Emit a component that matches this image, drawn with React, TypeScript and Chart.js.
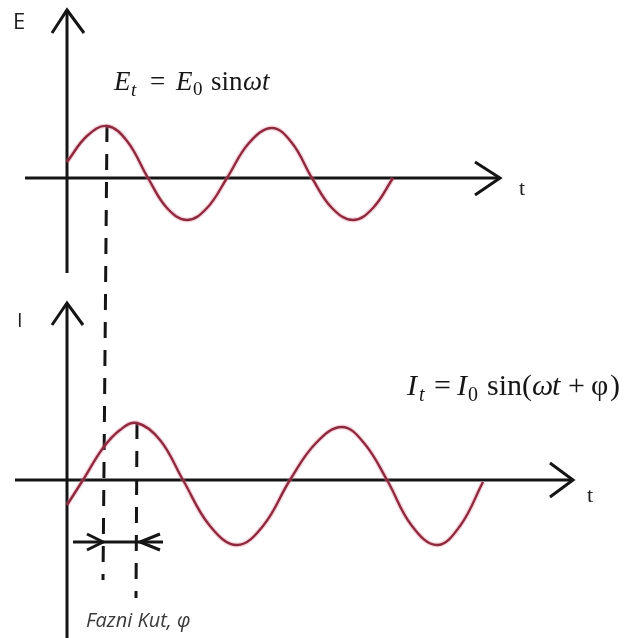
import React, { useEffect, useRef } from 'react';
import { Chart, registerables } from 'chart.js';
Chart.register(...registerables);

// ---- Data (t: time units, E/I: amplitude units) ----
const E_T = [0, 2.0, 4.0, 6.0, 8.1, 10.0, 12.0, 14.0, 16.0, 18.2, 20.5, 22.5, 24.5, 26.5, 28.6, 30.6, 32.6];
const E_VAL = [1.6, 4.2, 5.2, 3.7, 0, -3.0, -4.2, -3.0, 0, 3.5, 5.0, 3.5, 0, -3.0, -4.2, -3.0, 0];

const I_T = [0, 1.6, 3.6, 5.3, 7.0, 9.3, 11.6, 14.3, 17.0, 19.6, 22.3, 24.9, 27.5, 29.7, 32.0, 34.5, 37.0, 39.3, 41.6];
const I_VAL = [-2.5, 0, 3.2, 5.0, 5.7, 4.0, 0, -4.6, -6.5, -4.6, 0, 3.7, 5.3, 3.7, 0, -4.6, -6.5, -4.6, -0.2];

// axes extents
const E_AXIS_T = [-4.2, 43.3];
const E_AXIS_V = [16.8, -9.5];
const I_AXIS_T = [-5.2, 50.6];
const I_AXIS_V = [17.7, -16.2];

// dashed guide lines (peak markers)
const GUIDE1_T = [4.0, 3.6];
const GUIDE1_E = [5.2, -40.2];
const GUIDE2_T = [7.0, 6.9];
const GUIDE2_I = [5.7, -11.8];

// phase-angle dimension line
const PHASE_T = [0.6, 9.6];
const PHASE_I = -6.2;

const CURVE = '#8f2a3e';
const HALO = 'rgba(225,120,145,0.3)';
const INK = '#151515';

const pts = (xs: number[], ys: number[]) => xs.map((x, i) => ({ x, y: ys[i] }));

export default function App() {
  const ref = useRef<HTMLCanvasElement | null>(null);
  useEffect(() => {
    if (!ref.current) return;
    const line = (data: any[], yAxisID: string, color: string, width: number, extra: any = {}) => ({
      data, yAxisID, borderColor: color, borderWidth: width, pointRadius: 0, fill: false,
      tension: 0, showLine: true, ...extra,
    });
    const arrowE = [
      { x: E_AXIS_T[1] - 2.5, y: 1.6 }, { x: E_AXIS_T[1], y: 0 }, { x: E_AXIS_T[1] - 2.5, y: -1.7 },
    ];
    const arrowEy = [
      { x: -1.5, y: E_AXIS_V[0] - 2.3 }, { x: 0, y: E_AXIS_V[0] }, { x: 1.7, y: E_AXIS_V[0] - 2.3 },
    ];
    const arrowI = [
      { x: I_AXIS_T[1] - 2.3, y: 1.7 }, { x: I_AXIS_T[1], y: 0 }, { x: I_AXIS_T[1] - 2.3, y: -1.7 },
    ];
    const arrowIy = [
      { x: -1.5, y: I_AXIS_V[0] - 2.2 }, { x: 0, y: I_AXIS_V[0] }, { x: 1.6, y: I_AXIS_V[0] - 2.2 },
    ];
    const headL = [
      { x: GUIDE1_T[1] - 1.6, y: PHASE_I + 0.8 }, { x: GUIDE1_T[1], y: PHASE_I }, { x: GUIDE1_T[1] - 1.6, y: PHASE_I - 0.8 },
    ];
    const headR = [
      { x: GUIDE2_T[1] + 2.4, y: PHASE_I + 0.8 }, { x: GUIDE2_T[1] + 0.4, y: PHASE_I }, { x: GUIDE2_T[1] + 2.4, y: PHASE_I - 0.8 },
    ];

    const textPlugin = {
      id: 'texts',
      afterDatasetsDraw(chart: any) {
        const { ctx, scales } = chart;
        const X = (v: number) => scales.x.getPixelForValue(v);
        const YE = (v: number) => scales.yE.getPixelForValue(v);
        const YI = (v: number) => scales.yI.getPixelForValue(v);
        ctx.save();
        ctx.textBaseline = 'alphabetic';
        ctx.textAlign = 'left';
        const put = (s: string, font: string, x: number, y: number, color = '#161616') => {
          ctx.font = font;
          ctx.fillStyle = color;
          ctx.fillText(s, x, y);
        };
        const serif = '"Liberation Serif", "DejaVu Serif", serif';
        const sans = '"Open Sans", "Liberation Sans", sans-serif';
        put('E', `22px ${sans}`, X(-5.4), YE(14.9), '#222');
        put('I', `20px ${sans}`, X(-5.0), YI(15.3), '#222');
        put('t', `22px ${serif}`, X(45.2), YE(-1.7), '#222');
        put('t', `22px ${serif}`, X(52.0), YI(-2.2), '#222');

        // top formula (27px)
        const ax = X(4.7), ay = YE(8.8);
        const b1 = `27px ${serif}`, b1i = `italic 27px ${serif}`;
        const s1 = `19px ${serif}`, s1i = `italic 19px ${serif}`;
        const topRuns: [string, string, number, number][] = [
          ['E', b1i, 0, 0], ['t', s1i, 17, 6], ['=', b1, 36, 0], ['E', b1i, 62, 0],
          ['0', s1, 79, 5], ['sin', b1, 97, 0], ['ω', b1i, 129, 0], ['t', b1i, 148, 0],
        ];
        topRuns.forEach(([s, f, dx, dy]) => put(s, f, ax + dx, ay + dy));
        // bottom formula (30px)
        const bx = X(34.0), by = YI(8.5);
        const b2 = `30px ${serif}`, b2i = `italic 30px ${serif}`;
        const s2 = `20px ${serif}`, s2i = `italic 20px ${serif}`;
        const botRuns: [string, string, number, number][] = [
          ['I', b2i, 0, 0], ['t', s2i, 12, 6], ['=', b2, 27, 0], ['I', b2i, 50, 0],
          ['0', s2, 61, 6], ['sin(', b2, 80, 0], ['ω', b2i, 125, 0], ['t', b2i, 145, 0],
          ['+', b2, 161, 0], ['φ', b2, 184, 0], [')', b2, 203, 0],
        ];
        botRuns.forEach(([s, f, dx, dy]) => put(s, f, bx + dx, by + dy));
        put('Fazni Kut, φ', `italic 20px ${sans}`, X(1.9), YI(-14.7), '#3a3a3a');
        ctx.restore();
      },
    };

    const smooth = { tension: 0.4 };
    const chart = new Chart(ref.current, {
      type: 'line',
      data: {
        datasets: [
          line(pts(E_T, E_VAL), 'yE', CURVE, 2.4, smooth),
          line(pts(I_T, I_VAL), 'yI', CURVE, 2.4, smooth),
          line(pts(E_T, E_VAL), 'yE', HALO, 5, smooth),
          line(pts(I_T, I_VAL), 'yI', HALO, 5, smooth),
          line(pts(E_AXIS_T, [0, 0]), 'yE', INK, 3),
          line(arrowE, 'yE', INK, 3),
          line(pts([0, 0], E_AXIS_V), 'yE', INK, 3),
          line(arrowEy, 'yE', INK, 3),
          line(pts(I_AXIS_T, [0, 0]), 'yI', INK, 3),
          line(arrowI, 'yI', INK, 3),
          line(pts([0, 0], I_AXIS_V), 'yI', INK, 3),
          line(arrowIy, 'yI', INK, 3),
          line(pts(GUIDE1_T, GUIDE1_E), 'yE', INK, 3, { borderDash: [16, 12] }),
          line(pts(GUIDE2_T, GUIDE2_I), 'yI', INK, 3, { borderDash: [16, 12] }),
          line(pts(PHASE_T, [PHASE_I, PHASE_I]), 'yI', INK, 3),
          line(headL, 'yI', INK, 3),
          line(headR, 'yI', INK, 3),
        ],
      },
      options: {
        responsive: false,
        animation: false,
        events: [],
        layout: { padding: 0 },
        plugins: { legend: { display: false }, tooltip: { enabled: false }, title: { display: false } },
        scales: {
          x: { type: 'linear', min: -6.7, max: 57.6, display: false },
          yE: { type: 'linear', min: -46, max: 17.8, display: false },
          yI: { type: 'linear', min: -15.8, max: 48.0, display: false },
        },
      },
      plugins: [textPlugin],
    });
    return () => chart.destroy();
  }, []);
  return (
    <div style={{ position: 'fixed', left: 0, top: 0, width: 643, height: 638, background: '#fff' }}>
      <canvas ref={ref} width={643} height={638} style={{ display: 'block', width: 643, height: 638 }} />
    </div>
  );
}
